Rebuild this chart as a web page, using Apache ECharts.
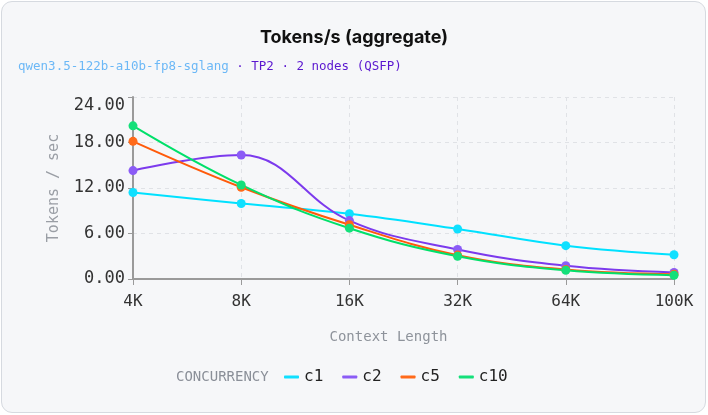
<!DOCTYPE html>
<html>
<head>
<meta charset="UTF-8">
<title>Tokens/s (aggregate)</title>
<style>
  * { margin: 0; padding: 0; box-sizing: border-box; }
  body { width: 708px; height: 415px; background: #ffffff; overflow: hidden; }
  #card {
    position: absolute; left: 1px; top: 1px; width: 705px; height: 412px;
    background: #f6f7f9; border: 1px solid #d6dae0; border-radius: 11px;
  }
  #chart { position: absolute; left: 0; top: 0; width: 708px; height: 415px; }
</style>
<script src="https://cdn.jsdelivr.net/npm/echarts@6/dist/echarts.min.js"></script>
</head>
<body>
<div id="card"></div>
<div id="chart"></div>
<script>
// 数据
const contexts = ['4K', '8K', '16K', '32K', '64K', '100K']
const c1 = [11.4, 9.95, 8.6, 6.6, 4.4, 3.2]
const c2 = [14.3, 16.35, 7.7, 3.9, 1.75, 0.87]
const c5 = [18.15, 12.1, 7.15, 3.15, 1.25, 0.62]
const c10 = [20.2, 12.4, 6.7, 3.0, 1.15, 0.5]

const mono = 'DejaVu Sans Mono'
const colors = ['#00e1ff', '#7c3aed', '#ff5a0a', '#00e06a']
const markerColors = ['#10e0ff', '#8b5cf6', '#ff6a1a', '#14e07a']

const makeSeries = (name, data, i) => ({
  name,
  type: 'line',
  data,
  smooth: 0.4,
  symbol: 'circle',
  symbolSize: 9,
  showAllSymbol: true,
  lineStyle: { width: 2, color: colors[i] },
  itemStyle: { color: markerColors[i] },
  emphasis: { disabled: true }
})

const chart = echarts.init(document.getElementById('chart'))
chart.setOption({
  animation: false,
  title: [
    {
      text: 'Tokens/s (aggregate)',
      left: 'center',
      top: 24,
      textStyle: { fontFamily: 'Inter', fontWeight: 'bold', fontSize: 18, color: '#111' }
    },
    {
      text: '{a|qwen3.5-122b-a10b-fp8-sglang}{b| · TP2 · 2 nodes (QSFP)}',
      left: 13,
      top: 55,
      textStyle: {
        fontWeight: 'normal',
        rich: {
          a: { fontFamily: mono, fontSize: 12.5, fontWeight: 'normal', color: '#6cb8f6' },
          b: { fontFamily: mono, fontSize: 12.5, fontWeight: 'normal', color: '#5b17cf' }
        }
      }
    }
  ],
  graphic: [{
    type: 'text',
    left: 176,
    top: 370,
    style: { text: 'CONCURRENCY', fontFamily: mono, fontSize: 14, fill: '#8a8f98' }
  }],
  legend: {
    left: 284,
    top: 369,
    padding: 0,
    itemWidth: 15,
    itemHeight: 3,
    itemGap: 19,
    icon: 'roundRect',
    textStyle: { fontFamily: mono, fontSize: 16, color: '#222' },
    data: ['c1', 'c2', 'c5', 'c10']
  },
  grid: { left: 133, right: 34, top: 97, bottom: 136 },
  xAxis: {
    type: 'category',
    data: contexts,
    boundaryGap: false,
    name: 'Context Length',
    nameLocation: 'middle',
    nameGap: 51,
    nameTextStyle: { fontFamily: mono, fontSize: 14, color: '#8e939b', padding: [0, 30, 0, 0] },
    axisLine: { lineStyle: { color: '#9a9a9a', width: 2 } },
    axisTick: { show: true, length: 6, lineStyle: { color: '#9a9a9a' } },
    axisLabel: { fontFamily: mono, fontSize: 16, color: '#333', margin: 15 },
    splitLine: { show: true, lineStyle: { color: '#e0e2e6', type: [4, 4] } }
  },
  yAxis: {
    type: 'value',
    min: 0,
    max: 24,
    interval: 6,
    name: 'Tokens / sec',
    nameLocation: 'middle',
    nameGap: 71,
    nameTextStyle: { fontFamily: mono, fontSize: 15, color: '#9a9ea5' },
    axisLine: { show: true, lineStyle: { color: '#9a9a9a', width: 2 } },
    axisTick: { show: true, length: 5, lineStyle: { color: '#9a9a9a' } },
    axisLabel: {
      fontFamily: mono, fontSize: 17, color: '#333', margin: 8,
      formatter: v => v === 24 ? '{top|' + v.toFixed(2) + '}' : v.toFixed(2),
      rich: { top: { fontFamily: mono, fontSize: 17, color: '#333', padding: [18, 0, 0, 0] } }
    },
    splitLine: { show: true, lineStyle: { color: '#e0e2e6', type: [4, 4] } }
  },
  series: [
    makeSeries('c1', c1, 0),
    makeSeries('c2', c2, 1),
    makeSeries('c5', c5, 2),
    makeSeries('c10', c10, 3)
  ]
})
</script>
</body>
</html>
